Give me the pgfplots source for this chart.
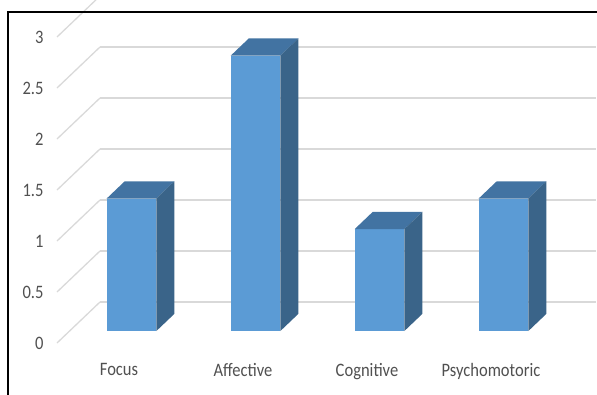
\documentclass[border=0pt]{standalone}
\usepackage{fontspec}
\setmainfont{Carlito}[FakeStretch=0.87]
\usepackage{pgfplots}
\pgfplotsset{compat=1.18}
\definecolor{front}{HTML}{5B9BD5}
\definecolor{topc}{HTML}{4273A2}
\definecolor{side}{HTML}{3A6489}
\definecolor{gridc}{HTML}{D9D9D9}
\definecolor{txt}{HTML}{505050}
\begin{document}
\begin{tikzpicture}
\useasboundingbox (-119pt,-51pt) rectangle (478pt,343pt);
\clip (-119pt,-51pt) rectangle (478pt,343pt);
\begin{axis}[
  at={(0pt,0pt)}, anchor=origin,
  x={(124pt,0pt)}, y={(43pt,41pt)}, z={(0pt,102pt)},
  xmin=-0.5, xmax=3.5, ymin=0, ymax=1, zmin=0, zmax=3,
  clip=false,
  axis line style={draw=none},
  major tick length=0pt,
  xtick={0,1,2,3},
  xticklabels={Focus,Affective,Cognitive,Psychomotoric},
  ytick=\empty,
  ztick={0,0.5,1,1.5,2,2.5,3},
  zmajorgrids,
  grid style={gridc, line width=1.3pt},
  tick label style={font=\fontsize{19}{22}\selectfont, text=txt},
  /pgf/number format/assume math mode=true,
  zticklabel style={anchor=east, xshift=-10pt},
  xticklabel style={anchor=north, yshift=-17pt},
]
% Focus
\addplot3[fill=front, draw=none] coordinates {(-0.2,0.29,0) (0.2,0.29,0) (0.2,0.29,1.3) (-0.2,0.29,1.3)};
\addplot3[fill=topc, draw=none] coordinates {(-0.2,0.29,1.3) (0.2,0.29,1.3) (0.2,0.71,1.3) (-0.2,0.71,1.3)};
\addplot3[fill=side, draw=none] coordinates {(0.2,0.29,0) (0.2,0.71,0) (0.2,0.71,1.3) (0.2,0.29,1.3)};
% Affective
\addplot3[fill=front, draw=none] coordinates {(0.8,0.29,0) (1.2,0.29,0) (1.2,0.29,2.7) (0.8,0.29,2.7)};
\addplot3[fill=topc, draw=none] coordinates {(0.8,0.29,2.7) (1.2,0.29,2.7) (1.2,0.71,2.7) (0.8,0.71,2.7)};
\addplot3[fill=side, draw=none] coordinates {(1.2,0.29,0) (1.2,0.71,0) (1.2,0.71,2.7) (1.2,0.29,2.7)};
% Cognitive
\addplot3[fill=front, draw=none] coordinates {(1.8,0.29,0) (2.2,0.29,0) (2.2,0.29,1.0) (1.8,0.29,1.0)};
\addplot3[fill=topc, draw=none] coordinates {(1.8,0.29,1.0) (2.2,0.29,1.0) (2.2,0.71,1.0) (1.8,0.71,1.0)};
\addplot3[fill=side, draw=none] coordinates {(2.2,0.29,0) (2.2,0.71,0) (2.2,0.71,1.0) (2.2,0.29,1.0)};
% Psychomotoric
\addplot3[fill=front, draw=none] coordinates {(2.8,0.29,0) (3.2,0.29,0) (3.2,0.29,1.3) (2.8,0.29,1.3)};
\addplot3[fill=topc, draw=none] coordinates {(2.8,0.29,1.3) (3.2,0.29,1.3) (3.2,0.71,1.3) (2.8,0.71,1.3)};
\addplot3[fill=side, draw=none] coordinates {(3.2,0.29,0) (3.2,0.71,0) (3.2,0.71,1.3) (3.2,0.29,1.3)};
\end{axis}
\draw[black, line width=2.5pt] (-111pt,-60pt) -- (-111pt,331pt) -- (490pt,331pt);
\end{tikzpicture}
\end{document}
